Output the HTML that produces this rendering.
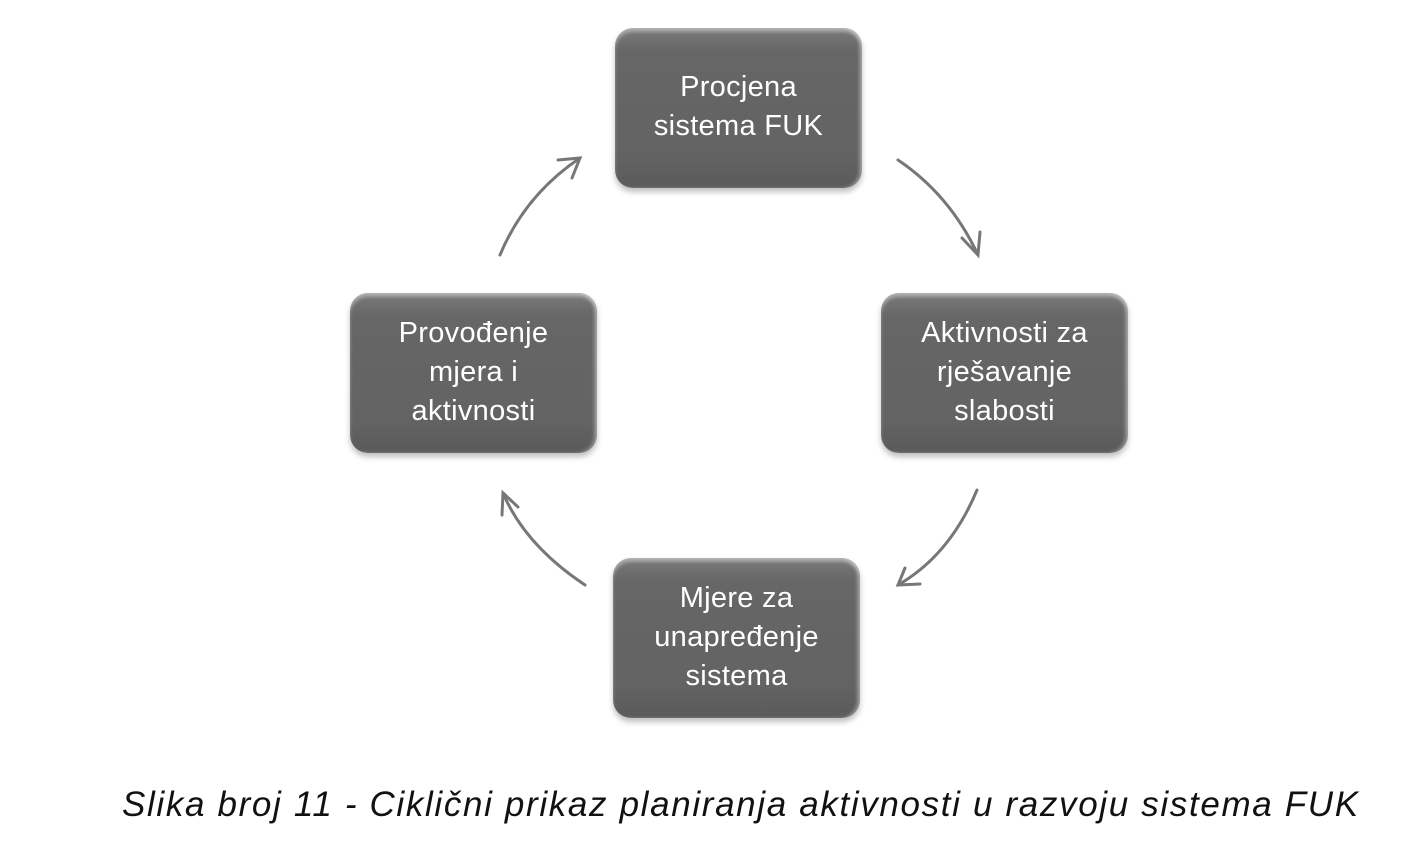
<!DOCTYPE html>
<html><head><meta charset="utf-8"><style>
body{margin:0;width:1415px;height:857px;background:#fff;position:relative;overflow:hidden;font-family:"Liberation Sans",sans-serif}
.b{position:absolute;width:247px;height:160px;border-radius:18px;background:linear-gradient(#7a7a7a,#666 15%,#636363 80%,#5a5a5a);box-shadow:inset 0 4px 3px rgba(255,255,255,.35),inset -3px 0 3px rgba(255,255,255,.3),0 4px 6px rgba(0,0,0,.25);color:#fff;font-size:29px;line-height:39px;text-align:center;display:flex;align-items:center;justify-content:center;letter-spacing:.3px}
.b span{margin-top:-2px}
.cap{position:absolute;left:122px;top:785px;font-size:35px;font-style:italic;color:#111;white-space:nowrap;letter-spacing:1.65px}
</style></head><body>
<div class="b" style="left:615px;top:28px"><span>Procjena<br>sistema FUK</span></div>
<div class="b" style="left:881px;top:293px"><span>Aktivnosti za<br>rješavanje<br>slabosti</span></div>
<div class="b" style="left:350px;top:293px"><span>Provođenje<br>mjera i<br>aktivnosti</span></div>
<div class="b" style="left:613px;top:558px"><span>Mjere za<br>unapređenje<br>sistema</span></div>
<svg width="1415" height="857" style="position:absolute;left:0;top:0" fill="none" stroke="#777" stroke-width="3" stroke-linecap="round">
<path d="M898 160 Q950 195 978 255"/><path d="M962 238 L978 255 L980 232"/>
<path d="M977 490 Q950 555 898 585"/><path d="M905 568 L898 585 L920 584"/>
<path d="M585 585 Q525 545 503 493"/><path d="M502 515 L503 493 L518 507"/>
<path d="M500 255 Q525 195 580 158"/><path d="M558 160 L580 158 L572 178"/>
</svg>
<div class="cap">Slika broj 11 - Ciklični prikaz planiranja aktivnosti u razvoju sistema FUK</div>
</body></html>
